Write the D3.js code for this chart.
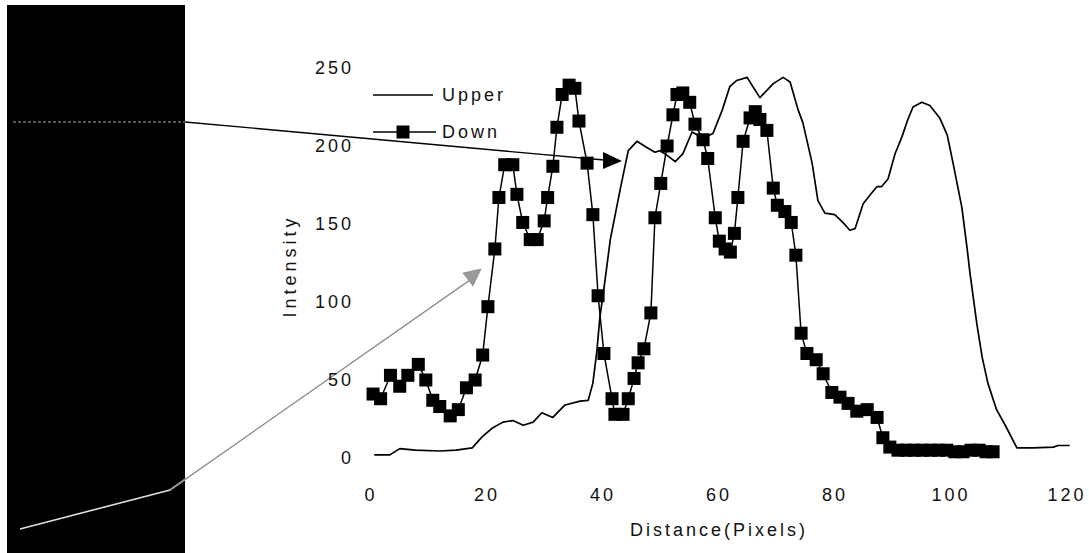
<!DOCTYPE html>
<html>
<head>
<meta charset="utf-8">
<script src="https://cdn.jsdelivr.net/npm/d3@7"></script>
<style>
  html, body { margin: 0; padding: 0; background: #fff; }
  svg { display: block; }
  text { font-family: "Liberation Sans", Arial, sans-serif; fill: #111; }
</style>
</head>
<body>
<svg id="chart" width="1089" height="553"></svg>
<script>
// ---- data ----
const xTicks = [0, 20, 40, 60, 80, 100, 120];
const yTicks = [0, 50, 100, 150, 200, 250];
const seriesNames = ["Upper", "Down"];

const upperX = [0.9, 3.6, 5.3, 8, 12.2, 15, 17.8, 19.5, 21.2, 23.1, 24.8, 26.6, 28.3, 29.8, 31.7, 33.8, 36.4, 37.8, 38.6, 39.3, 39.8, 40.7, 41.6, 43.3, 44.7, 46.2, 47.9, 49.3, 50.2, 51.4, 52.8, 54.1, 55.7, 57.6, 59.3, 60.9, 62.2, 63.4, 65.2, 66.2, 67.4, 69.7, 71.4, 72.6, 74.0, 74.8, 76.4, 77.4, 78.6, 80.3, 81.7, 82.9, 83.8, 85.2, 86.7, 87.6, 88.4, 89.5, 90.7, 91.9, 92.9, 93.8, 95.3, 96.7, 98.4, 99.7, 100.7, 102.2, 103.1, 103.6, 104.8, 105.7, 106.7, 108.2, 109.7, 111.7, 114.5, 118, 118.8, 120.8];
const upperY = [2, 2, 6, 5, 4.5, 5, 6.5, 13.5, 19, 23, 24, 21, 23, 29, 26, 34, 36.5, 37, 48, 69, 90, 114, 140, 172, 197, 203, 199, 196, 197, 194, 190, 195, 209, 205, 208, 223, 238, 242, 244, 238, 231, 240, 244, 241, 223, 215, 189, 165, 157, 156, 151, 146, 147, 163, 170, 174, 174, 179, 195, 206, 217, 225, 228, 226, 218, 207, 189, 161, 135, 119, 86, 65, 48, 31, 21, 6.5, 6.5, 7, 8, 8];

const downX = [0.7, 2, 3.7, 5.3, 6.7, 8.5, 9.8, 11, 12.2, 14, 15.4, 16.8, 18.3, 19.6, 20.5, 21.7, 22.4, 23.4, 24.8, 25.5, 26.5, 27.8, 29, 30.2, 30.8, 31.7, 32.4, 33.3, 34.5, 35.5, 36.2, 37.6, 38.6, 39.5, 40.5, 41.9, 42.4, 43.8, 44.7, 45.7, 46.4, 47.4, 48.6, 49.3, 50.3, 51.4, 52.4, 53.1, 54.1, 55.3, 56.2, 57.6, 58.4, 59.7, 60.4, 61.4, 62.3, 63.0, 63.6, 64.5, 65.7, 66.6, 67.4, 68.6, 69.7, 70.4, 71.7, 72.8, 73.6, 74.5, 75.5, 77.1, 78.3, 79.8, 81.2, 82.6, 84.1, 85.9, 87.6, 88.6, 89.8, 91.2, 92.6, 94, 95.4, 96.8, 98.2, 99.6, 101, 102.4, 103.8, 105.2, 106.4, 107.6];
const downY = [41, 38, 53, 46, 53, 60, 50, 37, 33, 27, 31, 45, 50, 66, 97, 134, 167, 188, 188, 169, 151, 140, 140, 152, 167, 187, 212, 233, 239, 237, 216, 189, 156, 104, 67, 38, 28, 28, 38, 51, 61, 70, 93, 154, 176, 200, 220, 233, 234, 228, 214, 204, 192, 154, 139, 134, 132, 144, 167, 203, 218, 222, 217, 210, 173, 162, 158, 151, 130, 80, 67, 63, 54, 42, 39, 35, 30, 31, 26, 13, 7, 5, 5, 5, 5, 5, 5, 5, 4, 4, 5, 5, 4, 4];

// ---- drawing ----
const svg = d3.select("#chart");
const x = d3.scaleLinear().domain([0, 120]).range([369, 1065]);
const y = d3.scaleLinear().domain([0, 250]).range([458, 68]);
const LS = 3; // letter spacing of the reference's wide-set font

// black image strip at the left
svg.append("rect").attr("x", 7).attr("y", 5).attr("width", 178).attr("height", 548).attr("fill", "#000");
svg.append("line").attr("x1", 13).attr("x2", 185).attr("y1", 122).attr("y2", 122)
  .attr("stroke", "#aaa").attr("stroke-width", 1).attr("stroke-dasharray", "3,2");

// annotation arrows
svg.append("line").attr("x1", 185).attr("y1", 122).attr("x2", 604).attr("y2", 160)
  .attr("stroke", "#000").attr("stroke-width", 1.3);
svg.append("path").attr("d", "M603,152 L622,161 L603,169 Z").attr("fill", "#000");

svg.append("polyline").attr("points", "20,529 170,490 470,280")
  .attr("fill", "none").attr("stroke", "#ddd").attr("stroke-width", 1.6);
svg.append("line").attr("x1", 170).attr("y1", 490).attr("x2", 470).attr("y2", 280)
  .attr("stroke", "#888").attr("stroke-width", 1.1);
svg.append("path").attr("d", "M481,269 L473,286 L463,273 Z").attr("fill", "#999").attr("stroke", "#777").attr("stroke-width", 0.6);

// axes (no axis lines, labels only)
const gx = svg.append("g").attr("transform", "translate(0,458)")
  .call(d3.axisBottom(x).tickValues(xTicks).tickSize(0).tickPadding(30));
const gy = svg.append("g").attr("transform", "translate(369,0)")
  .call(d3.axisLeft(y).tickValues(yTicks).tickSize(0).tickPadding(15));
[gx, gy].forEach(g => {
  g.select(".domain").remove();
  g.selectAll("text").style("font-family", '"Liberation Sans", Arial, sans-serif')
    .style("font-size", "18px").style("letter-spacing", LS + "px").attr("fill", "#111");
});
gx.selectAll("text").attr("dx", LS / 2);

svg.append("text").attr("x", 719).attr("y", 536).attr("text-anchor", "middle")
  .style("font-size", "18px").style("letter-spacing", LS + "px").text("Distance(Pixels)");
svg.append("text").attr("transform", "translate(296,266) rotate(-90)").attr("text-anchor", "middle")
  .style("font-size", "18px").style("letter-spacing", "4px").text("Intensity");

// series
const line = d3.line().x(d => x(d[0])).y(d => y(d[1]));
const upper = upperX.map((v, i) => [v, upperY[i]]);
const down = downX.map((v, i) => [v, downY[i]]);

svg.append("path").datum(upper).attr("d", line)
  .attr("fill", "none").attr("stroke", "#000").attr("stroke-width", 1.7).attr("stroke-linejoin", "round");
svg.append("path").datum(down).attr("d", line)
  .attr("fill", "none").attr("stroke", "#000").attr("stroke-width", 1.5);
const M = 13;
svg.append("g").selectAll("rect").data(down).join("rect")
  .attr("x", d => x(d[0]) - M / 2).attr("y", d => y(d[1]) - M / 2)
  .attr("width", M).attr("height", M).attr("fill", "#000");

// legend
const lg = svg.append("g");
lg.append("line").attr("x1", 373).attr("x2", 433).attr("y1", 95).attr("y2", 95).attr("stroke", "#000").attr("stroke-width", 1.3);
lg.append("text").attr("x", 442).attr("y", 101).style("font-size", "18px").style("letter-spacing", LS + "px").text(seriesNames[0]);
lg.append("line").attr("x1", 373).attr("x2", 436).attr("y1", 132).attr("y2", 132).attr("stroke", "#000").attr("stroke-width", 1.3);
lg.append("rect").attr("x", 403 - M / 2).attr("y", 132 - M / 2).attr("width", M).attr("height", M).attr("fill", "#000");
lg.append("text").attr("x", 442).attr("y", 138).style("font-size", "18px").style("letter-spacing", LS + "px").text(seriesNames[1]);
</script>
</body>
</html>
